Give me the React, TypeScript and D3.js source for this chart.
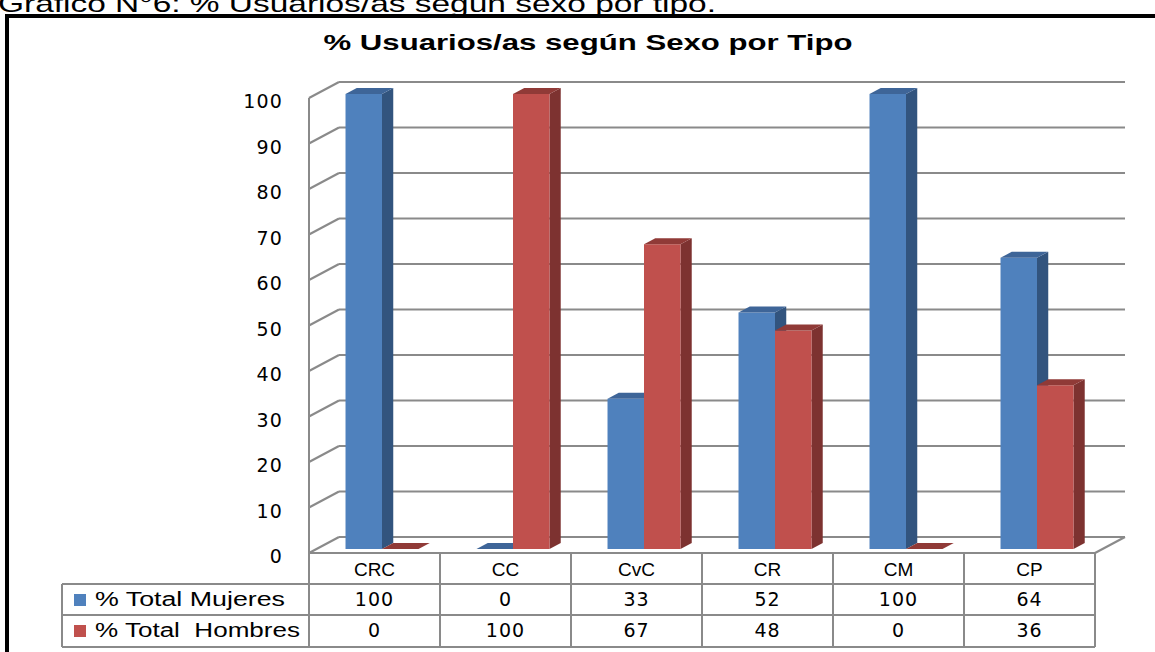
import React from "react";
import * as d3 from "d3";

const categories = ["CRC", "CC", "CvC", "CR", "CM", "CP"];
const mujeres = [100, 0, 33, 52, 100, 64];
const hombres = [0, 100, 67, 48, 0, 36];
const seriesNames = ["% Total Mujeres", "% Total  Hombres"];
const yTicks = [0, 10, 20, 30, 40, 50, 60, 70, 80, 90, 100];
const chartTitle = "% Usuarios/as según Sexo por Tipo";
const captionText = "Gráfico N°6: % Usuarios/as según sexo por tipo.";

const W = 1155;
const H = 652;
const X0 = 309;
const X1 = 1095;
const DX = 30;
const DY = -16;
const D0 = 0.25;
const D1 = 0.625;

const palette = [
  { front: "#4F81BD", side: "#32547E", top: "#3E6598", key: "#4F81BD" },
  { front: "#C0504D", side: "#7D3230", top: "#903A37", key: "#C0504D" },
];

export default function App() {
  const y = d3.scaleLinear().domain([0, 100]).range([553, 98]);
  const xCat = d3.scaleBand<string>().domain(categories).range([X0, X1]).paddingInner(0.443).paddingOuter(0.2215);
  const xSer = d3.scaleBand<number>().domain([0, 1]).range([0, xCat.bandwidth()]).padding(0);
  const step = (X1 - X0) / categories.length;
  const series = [mujeres, hombres];

  const proj = (x: number, v: number, d: number): [number, number] => [x + DX * d, y(v) + DY * d];
  const poly = (pts: [number, number][]) => pts.map((p) => p.join(",")).join(" ");

  const bars: JSX.Element[] = [];
  categories.forEach((c, i) => {
    series.forEach((vals, s) => {
      const v = vals[i];
      const xl = (xCat(c) as number) + (xSer(s) as number);
      const xr = xl + xSer.bandwidth();
      const col = palette[s];
      const fl0 = proj(xl, 0, D0), fr0 = proj(xr, 0, D0), flv = proj(xl, v, D0), frv = proj(xr, v, D0);
      const br0 = proj(xr, 0, D1), brv = proj(xr, v, D1), blv = proj(xl, v, D1);
      bars.push(
        <g key={`${c}-${s}`}>
          <polygon points={poly([fr0, br0, brv, frv])} fill={col.side} />
          <polygon points={poly([fl0, fr0, frv, flv])} fill={col.front} />
          <polygon points={poly([flv, frv, brv, blv])} fill={col.top} />
        </g>
      );
    });
  });

  const grid = "#8a8a8a";
  const rowTop = 553, row1 = 584, row2 = 615, rowBot = 647;
  const legendX = 62;

  return (
    <svg width={W} height={H} style={{ position: "fixed", left: 0, top: 0, background: "#fff" }}>
      <rect x={0} y={0} width={W} height={H} fill="#fff" />
      <text x={-2} y={12} fontFamily="Liberation Sans, Arial, sans-serif" fontSize={24} textLength={718} lengthAdjust="spacingAndGlyphs" fill="#000">
        {captionText}
      </text>
      <rect x={7} y={16} width={1200} height={700} fill="none" stroke="#000" strokeWidth={4} />
      <text x={588} y={50} textAnchor="middle" fontFamily="Liberation Sans, Arial, sans-serif" fontWeight="bold" fontSize={22} textLength={529} lengthAdjust="spacingAndGlyphs" fill="#000">
        {chartTitle}
      </text>

      {yTicks.map((t) => (
        <g key={t}>
          <line x1={X0 + DX} x2={X1 + DX} y1={y(t) + DY} y2={y(t) + DY} stroke={grid} strokeWidth={2} />
          <line x1={X0} x2={X0 + DX} y1={y(t)} y2={y(t) + DY} stroke={grid} strokeWidth={2} />
          <text x={283} y={y(t) + 10} textAnchor="end" fontFamily="DejaVu Sans, Verdana, sans-serif" fontSize={19} letterSpacing={1.2} fill="#000">
            {t}
          </text>
        </g>
      ))}
      <line x1={X0} x2={X0} y1={y(100)} y2={y(0)} stroke={grid} strokeWidth={2} />
      <line x1={X1} x2={X1 + DX} y1={y(0)} y2={y(0) + DY} stroke={grid} strokeWidth={2} />

      {bars}

      <g stroke={grid} strokeWidth={2} fill="none">
        <line x1={X0} x2={X1} y1={rowTop} y2={rowTop} />
        <line x1={legendX} x2={X1} y1={row1} y2={row1} />
        <line x1={legendX} x2={X1} y1={row2} y2={row2} />
        <line x1={legendX} x2={X1} y1={rowBot} y2={rowBot} />
        <line x1={legendX} x2={legendX} y1={row1} y2={rowBot} />
        {d3.range(categories.length + 1).map((k) => (
          <line key={k} x1={X0 + k * step} x2={X0 + k * step} y1={rowTop} y2={rowBot} />
        ))}
      </g>
      {categories.map((c, i) => (
        <text key={c} x={X0 + (i + 0.5) * step} y={576} textAnchor="middle" fontFamily="Liberation Sans, Arial, sans-serif" fontSize={19} fill="#000">
          {c}
        </text>
      ))}
      {series.map((vals, s) => (
        <g key={s}>
          <rect x={74} y={(s === 0 ? row1 : row2) + 10} width={12} height={12} fill={palette[s].key} />
          <text x={95} y={(s === 0 ? row1 : row2) + 22} fontFamily="Liberation Sans, Arial, sans-serif" fontSize={20} textLength={s === 0 ? 190 : 205} lengthAdjust="spacingAndGlyphs" style={{ whiteSpace: "pre" }} fill="#000">
            {seriesNames[s]}
          </text>
          {vals.map((v, i) => (
            <text key={i} x={X0 + (i + 0.5) * step} y={(s === 0 ? row1 : row2) + 22} textAnchor="middle" fontFamily="DejaVu Sans, Verdana, sans-serif" fontSize={19} letterSpacing={1} fill="#000">
              {v}
            </text>
          ))}
        </g>
      ))}
    </svg>
  );
}
